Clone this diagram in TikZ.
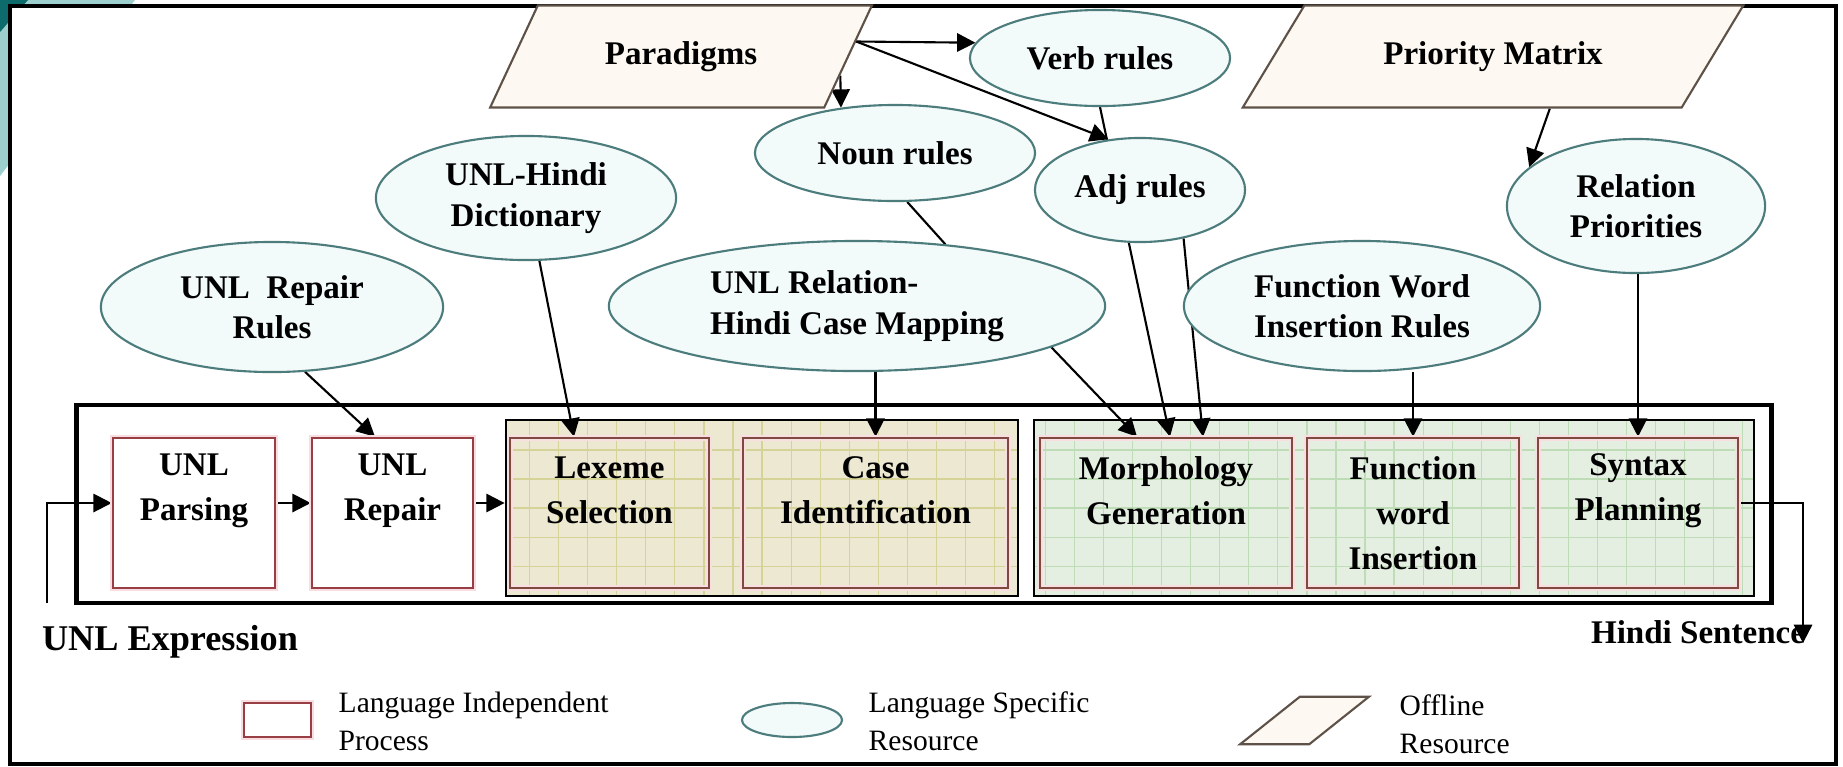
\documentclass[tikz,border=0pt]{standalone}
\usepackage{fontspec}
\setmainfont{Liberation Serif}
\usetikzlibrary{shapes.geometric,arrows.meta,calc,positioning}
\pgfdeclarelayer{back}
\pgfdeclarelayer{edges}
\pgfsetlayers{back,edges,main}
\definecolor{tealDark}{HTML}{0E6B6B}
\definecolor{tealLight}{HTML}{9DCFCF}
\definecolor{resLine}{HTML}{4C7C7C}
\definecolor{resFill}{HTML}{F3FAFA}
\definecolor{procLine}{HTML}{9A3E46}
\definecolor{procBrown}{HTML}{7E4A3E}
\definecolor{procGlow}{HTML}{F8DEE0}
\definecolor{offLine}{HTML}{5E5248}
\definecolor{offFill}{HTML}{FDF9F2}
\definecolor{khakiFill}{HTML}{ECE8D2}
\definecolor{khakiGrid}{HTML}{D6D398}
\definecolor{mintFill}{HTML}{E4EFE2}
\definecolor{mintGrid}{HTML}{BEDDB6}

\begin{document}
\begin{tikzpicture}
[x=0.01cm, y=-0.01cm,
  resDecorate/.style={shape=ellipse,draw=resLine,fill=resFill,line width=0.6pt,inner sep=0pt,align=center,
    font=\bfseries\fontsize{9.4}{11.5}\selectfont},
  offDecorate/.style={shape=trapezium,trapezium stretches=true,draw=offLine,fill=offFill,line width=0.6pt,
    inner sep=0pt,font=\bfseries\fontsize{9.4}{11.5}\selectfont},
  procDecorate/.style={draw=procLine,line width=0.7pt,preaction={draw=procGlow,line width=1.8pt},
    minimum height=1.50cm,inner sep=0pt},
  boxText/.style={font=\bfseries\fontsize{9.4}{12.8}\selectfont,align=center,inner sep=0pt},
  legendText/.style={font=\fontsize{8.4}{10.8}\selectfont,align=left,anchor=west,inner sep=0pt},
  ioText/.style={font=\bfseries,inner sep=0pt},
  khakiGroup/.style={draw=black,line width=0.7pt,fill=khakiFill,inner sep=0pt,minimum height=1.76cm,
    path picture={\draw[khakiGrid,line width=0.3pt,step=0.29cm] (path picture bounding box.south west) grid (path picture bounding box.north east);}},
  mintGroup/.style={draw=black,line width=0.7pt,fill=mintFill,inner sep=0pt,minimum height=1.76cm,
    path picture={\draw[mintGrid,line width=0.3pt,step=0.29cm] (path picture bounding box.south west) grid (path picture bounding box.north east);}},
  arrowDecorate/.style={-{Triangle[length=5.2pt,width=5.2pt]},line width=0.6pt},
  lineDecorate/.style={-,line width=0.6pt}]
\useasboundingbox (0,0) rectangle (1843,766);

%% slide corner and frame
\begin{pgfonlayer}{back}
\fill[tealLight] (0,0) -- (135,0) -- (0,176) -- cycle;
\fill[tealDark] (0,0) -- (28,0) -- (0,32) -- cycle;
\draw[line width=0.9pt,fill=white] (10,6) rectangle (1836,764);
\node (grpA) at (762,508) [khakiGroup,minimum width=5.12cm] {};
\node (grpB) at (1394,508) [mintGroup,minimum width=7.20cm] {};
\end{pgfonlayer}

%% offline resources
\node (para) at (681,56.5) [offDecorate,trapezium left angle=50,trapezium right angle=130,
  minimum width=3.82cm,minimum height=1.02cm] {Paradigms};
\node (pm) at (1493,56.5) [offDecorate,trapezium left angle=40,trapezium right angle=140,
  minimum width=5.04cm,minimum height=1.02cm] {Priority Matrix};

%% language specific resources
\foreach \nodename/\x/\y/\w/\h/\txt in {
  verb/1100/58/2.60/0.96/{Verb rules}, noun/895/153/2.80/0.96/{Noun rules},
  adj/1140/190/2.10/1.04/{Adj rules}, dict/526/198/3.00/1.24/{UNL-Hindi\\Dictionary},
  rrules/272/307/3.42/1.30/{UNL~ Repair\\Rules}, fwr/1362/306/3.56/1.30/{Function Word\\Insertion Rules},
  rel/1636/206/2.58/1.34/{Relation\\Priorities}}
{
  \node (\nodename) at (\x,\y) [resDecorate,minimum width=\w cm,minimum height=\h cm] {\txt};
}
\node (cmap) at (857,306) [resDecorate,align=left,minimum width=4.96cm,minimum height=1.30cm]
  {UNL Relation-\\Hindi Case Mapping};

%% process boxes
\node (pipeline) at (924,504) [draw,line width=1.2pt,minimum width=16.94cm,minimum height=1.98cm,inner sep=0pt] {};
\foreach \nodename/\x/\w/\fc/\lc/\txt/\ty in {
  parse/194/1.62/white/procLine/{UNL\\Parsing}/490.5, repair/392.5/1.61/white/procLine/{UNL\\Repair}/490.5,
  lexeme/609.5/1.99/none/procBrown/{Lexeme\\Selection}/490.5, caseid/875.5/2.65/none/procBrown/{Case\\Identification}/490.5,
  morph/1166/2.52/none/procBrown/{Morphology\\Generation}/490.5, funcw/1413/2.12/none/procBrown/{Function\\word\\Insertion}/513,
  syntax/1638/2.00/none/procBrown/{Syntax\\Planning}/490.5}
{
  \node (\nodename) at (\x,513) [procDecorate,draw=\lc,fill=\fc,minimum width=\w cm] {};
  \node (\nodename-t) at (\x,\ty) [boxText] {\txt};
}

%% input and output
\coordinate (inp) at (47,603);
\coordinate (outp) at (1803,643);
\node (inp-t) at (170,642) [ioText,font=\bfseries\fontsize{10.3}{12}\selectfont] {UNL Expression};
\node (outp-t) at (1698,632) [ioText,font=\bfseries\fontsize{9.4}{12}\selectfont] {Hindi Sentence};

%% connection points
\coordinate (paraA) at ($(para.top right corner)!0.356!(para.bottom right corner)$);
\coordinate (paraB) at ($(para.top right corner)!0.683!(para.bottom right corner)$);
\coordinate (pmA) at ($(pm.bottom left corner)!0.7!(pm.bottom right corner)$);
\coordinate (repT) at ($(repair.north)+(-17.5,0)$);
\coordinate (lexT) at ($(lexeme.north)+(-35.5,0)$);
\coordinate (morA) at ($(morph.north)+(-29,0)$);
\coordinate (morB) at ($(morph.north)+(4,0)$);
\coordinate (morC) at ($(morph.north)+(37,0)$);
\coordinate (parseR) at ($(parse.east)+(0,-10)$);
\coordinate (parseL) at ($(parse.west)+(0,-10)$);
\coordinate (repairR) at ($(repair.east)+(0,-10)$);
\coordinate (repairL) at ($(repair.west)+(0,-10)$);
\coordinate (grpAL) at ($(grpA.west)+(0,-5)$);
\coordinate (syntaxR) at ($(syntax.east)+(0,-10)$);

%% edges or lines
\begin{pgfonlayer}{edges}
\path
\foreach \startnode/\endnode in {
  paraA/verb.173, paraA/adj.122, paraB/noun.140, pmA/rel.160,
  rrules.-63/repT, dict.-78/lexT, caseid.north |- cmap.south/caseid.north,
  cmap.-12/morA, verb.south/morB, adj.-48/morC,
  funcw.north |- fwr.south/funcw.north, syntax.north |- rel.south/syntax.north,
  parseR/repairL, repairR/grpAL}
{
  (\startnode) edge[arrowDecorate] (\endnode)
};
\draw[lineDecorate] (noun.-76) -- (cmap.35);
\draw[arrowDecorate] (inp) |- (parseL);
\draw[arrowDecorate] (syntaxR) -| (outp);
\end{pgfonlayer}

%% legend
\node (legProc) at (277.5,720) [procDecorate,fill=white,minimum width=0.67cm,minimum height=0.34cm] {};
\node (legRes) at (792,720) [resDecorate,inner sep=1pt,minimum width=1.00cm,minimum height=0.34cm] {};
\node (legOff) at (1304.5,720.5) [offDecorate,inner sep=1pt,trapezium left angle=47,trapezium right angle=133,
  minimum width=1.29cm,minimum height=0.35cm] {\strut};
\node (legProc-t) at (338,721) [legendText] {Language Independent\\Process};
\node (legRes-t) at (868,721) [legendText] {Language Specific\\Resource};
\node (legOff-t) at (1399,724) [legendText] {Offline\\Resource};
\end{tikzpicture}
\end{document}
